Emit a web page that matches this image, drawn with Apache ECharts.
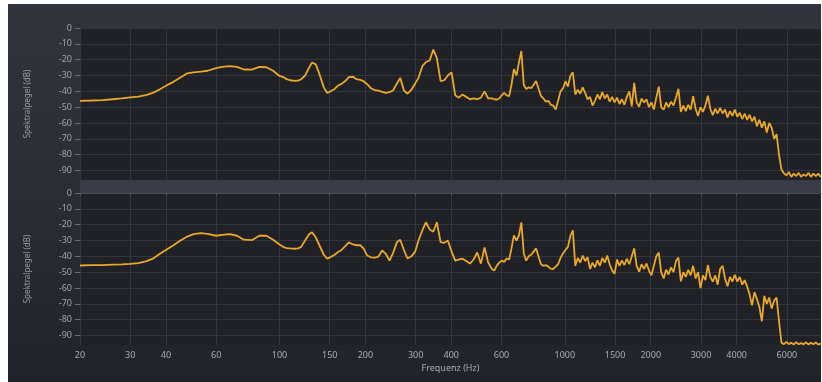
<!DOCTYPE html>
<html>
<head>
<meta charset="utf-8">
<script src="https://cdn.jsdelivr.net/npm/echarts@6/dist/echarts.min.js"></script>
<style>
  html, body { margin: 0; padding: 0; background: #ffffff; }
  #frame {
    position: absolute; left: 8px; top: 4px; width: 813px; height: 378px;
    background: linear-gradient(180deg, #31343c 0%, #2b2e35 45%, #202328 100%);
  }
  #chart { position: absolute; left: 0; top: 0; width: 822px; height: 382px; }
</style>
</head>
<body>
<div id="frame"></div>
<div id="chart"></div>
<script>
// Frequency bins (Hz) shared by both spectra
const freqHz = [
  20, 22, 24, 26, 28, 30, 32, 34, 36, 38, 40, 42.5, 45, 47.5, 50, 53, 56, 60, 63, 67, 71, 75, 80, 85, 90, 95,
  100, 103, 106, 109, 113, 116, 119, 123, 127, 130, 134, 138, 143, 147, 151, 156, 160, 165, 170, 175,
  181, 186, 192, 197, 203, 209, 216, 222, 229, 236, 243, 250, 258, 265, 273, 281, 290, 299, 307, 317,
  326, 336, 346, 356, 367, 378, 389, 401, 413, 425, 438, 451, 465, 479, 493, 508, 523, 539,
  555, 566, 577, 589, 601, 613, 625, 638, 650, 663, 677, 690, 704, 718, 732, 747, 762, 777, 793, 808,
  825, 841, 858, 875, 893, 910, 929, 947, 966, 986, 1005, 1025, 1046, 1067, 1088, 1110, 1132, 1155, 1178, 1201,
  1226, 1250, 1275, 1301, 1327, 1353, 1380, 1408, 1436, 1465, 1494, 1524, 1554, 1585, 1617, 1649, 1682, 1716, 1750, 1785,
  1821, 1857, 1895, 1933, 1971, 2011, 2051, 2092, 2134, 2176, 2220, 2264, 2310, 2356, 2403, 2451, 2500, 2550, 2601, 2653,
  2706, 2760, 2815, 2872, 2929, 2988, 3047, 3108, 3171, 3234, 3299, 3365, 3432, 3501, 3571, 3642, 3715, 3789, 3865, 3942,
  4021, 4101, 4183, 4267, 4352, 4439, 4528, 4619, 4711, 4805, 4902, 5000, 5100, 5202, 5306, 5412, 5520, 5630, 5743, 5858,
  5975, 6094, 6216, 6341, 6467, 6597, 6729, 6863, 7001, 7141, 7283, 7429, 7578, 7729, 7884
];

// Spectral level of the upper channel (dB)
const levelUpper = [
  -46, -45.8, -45.5, -45, -44.5, -43.8, -43.3, -42.4, -41, -38.8, -36.5, -34, -31.2, -28.6, -28, -27.6, -27, -25.3, -24.5, -24.1, -24.6, -26.2, -26.3, -24.6, -24.8, -27,
  -30.3, -31, -32.3, -33, -33.4, -33.3, -32.5, -30, -25, -21.8, -23, -29, -37.5, -41, -40, -38.5, -36.5, -35.3, -33.5, -31,
  -30.8, -32.3, -32.8, -33.6, -35.5, -38, -39.3, -39.5, -40.3, -41, -40.5, -39.5, -35, -31.5, -39.5, -41.5, -39, -35, -31.5, -24,
  -21.5, -20.5, -13.6, -19, -33.6, -33, -30, -28, -42.5, -44, -42, -43.5, -45, -44.5, -45, -44, -40, -44.5,
  -44.5, -45, -45.2, -44.5, -42.5, -41, -42.5, -43, -36, -26,
  -30, -22, -14.5, -36, -38.5, -37.5, -38, -36, -33.5, -38,
  -43, -44.5, -46.5, -46, -48.5, -49, -51.5, -46, -40, -38,
  -33.6, -37, -30, -28, -42, -39, -41.5, -37.5, -41, -45,
  -43.5, -49, -46, -42, -45, -40.5, -44.5, -42, -46.5, -43.5,
  -47, -44, -48, -45, -48.5, -43.5, -40, -49.5, -34.6, -47,
  -49.7, -44.5, -47, -45, -50, -47, -51.5, -44, -37, -50,
  -51.6, -47, -50, -46.5, -49, -44, -38.4, -53, -49, -52.5,
  -48.5, -51.5, -43, -51, -55.5, -50, -53, -49, -42.7, -51,
  -55, -51, -54, -50.5, -54, -51.5, -56.5, -52.5, -55.5, -51.5,
  -56, -53.5, -57.5, -54, -58, -54.8, -59, -56, -62, -57.9,
  -63, -59, -66, -60, -63, -70, -67, -80, -89.5, -91.8,
  -93, -91, -94, -92, -93.5, -91.5, -94, -92.5, -93.5, -91.5,
  -94, -92, -93.5, -92, -94
];

// Spectral level of the lower channel (dB)
const levelLower = [
  -45.8, -45.6, -45.5, -45.3, -45.1, -44.8, -44.3, -43.2, -41.5, -38.5, -36, -33, -30, -27.5, -26, -25.3, -25.8, -27, -26.5, -26, -27, -29.5, -29.8, -27, -27, -29.5,
  -32.5, -34, -34.8, -35, -35.2, -35, -34.2, -30, -26, -24.8, -28, -33, -39, -41.4, -40.5, -39, -37.4, -36, -33.5, -31.2,
  -32.5, -33, -33, -35, -39.5, -40.6, -40.8, -40.2, -36.3, -38.5, -42.7, -38, -31, -29.5, -36, -41.4, -40, -37, -30, -23.5,
  -18.5, -23, -24.5, -18.5, -31, -31.5, -30, -37, -42.7, -42, -41.5, -43, -44.6, -42, -37.6, -44.6, -34.4, -44,
  -48, -49, -46, -44, -42.7, -43.5, -41.4, -42, -35, -26.8,
  -30, -27, -18.5, -38, -42.7, -40, -39, -37, -35, -40,
  -45, -46, -45.5, -46.5, -47.8, -48, -46.5, -45, -41, -38,
  -36, -34, -27, -23.6, -46, -41, -44, -39.5, -43, -40.6,
  -48, -44, -47, -42.5, -46, -41, -44, -39.5, -45, -49,
  -51, -42, -46, -42.5, -45.5, -41.5, -45, -40, -35, -46,
  -49.7, -45, -48, -44.5, -49, -52, -46, -40, -37.6, -50,
  -54, -48.5, -51.5, -47, -50, -43, -40.8, -55.8, -50, -53,
  -48.5, -52, -46, -54, -50, -60, -52, -55, -45.5, -53,
  -56, -52, -57.9, -48, -46, -54, -58.9, -53, -56, -51.6,
  -56, -53, -57.9, -55, -59, -64, -71, -62.6, -67, -72,
  -81, -65, -70, -66, -73, -68, -66, -81, -94.5, -95.5,
  -94, -95.5, -94.5, -95.8, -94.2, -95.5, -94.8, -95.6, -94.3, -95.7,
  -94.6, -95.5, -94.4, -95.8, -95
];

// Axis ticks
const freqTicks = [20, 30, 40, 60, 100, 150, 200, 300, 400, 600, 1000, 1500, 2000, 3000, 4000, 6000];
const levelTicks = [0, -10, -20, -30, -40, -50, -60, -70, -80, -90];

const FONT = 'Noto Sans';
const gridColor = '#33363d';
const lineColor = '#e9a82b';

function freqAxis(index, withLabels) {
  return {
    type: 'log', logBase: 10, gridIndex: index, min: 20, max: 7900,
    axisLine: { show: withLabels, lineStyle: { color: '#4a4d55', width: 1 } },
    axisTick: { show: withLabels, customValues: freqTicks, length: 3, lineStyle: { color: '#4a4d55' } },
    axisLabel: {
      show: withLabels, customValues: freqTicks, formatter: v => String(v),
      color: '#a9adb4', fontSize: 9, fontFamily: FONT, margin: 6
    },
    splitLine: { show: true, lineStyle: { color: gridColor, width: 1 } },
    minorTick: { show: false }, minorSplitLine: { show: false },
    name: withLabels ? 'Frequenz (Hz)' : '', nameLocation: 'middle', nameGap: 19,
    nameTextStyle: { color: '#a9adb4', fontSize: 9, fontFamily: FONT }
  };
}

function levelAxis(index) {
  return {
    type: 'value', gridIndex: index, min: -96, max: 0,
    axisLine: { show: false },
    axisTick: { show: true, customValues: levelTicks, length: 5, lineStyle: { color: '#6a6e76' } },
    axisLabel: { customValues: levelTicks, color: '#a0a4ab', fontSize: 9, fontFamily: FONT, margin: 8 },
    splitLine: { show: true, lineStyle: { color: gridColor, width: 1 } },
    name: 'Spektralpegel (dB)', nameLocation: 'middle', nameGap: 48, nameRotate: 90,
    nameTextStyle: { color: '#9a9ea6', fontSize: 8, fontFamily: FONT }
  };
}

function spectrum(index, levels) {
  return {
    type: 'line', xAxisIndex: index, yAxisIndex: index,
    data: freqHz.map((f, i) => [f, levels[i]]),
    symbol: 'none', showSymbol: false, smooth: false,
    lineStyle: { color: lineColor, width: 1.8 },
    emphasis: { disabled: true }, animation: false
  };
}

const chart = echarts.init(document.getElementById('chart'));
chart.setOption({
  backgroundColor: 'transparent',
  animation: false,
  textStyle: { fontFamily: FONT },
  grid: [
    { left: 80, right: 1, top: 28, height: 152, show: true, backgroundColor: '#1f2126', borderWidth: 0 },
    { left: 80, right: 1, top: 193, height: 152, show: true, backgroundColor: '#1f2126', borderWidth: 0 }
  ],
  graphic: [
    { type: 'rect', z: -1, shape: { x: 80, y: 180, width: 741, height: 13 }, style: { fill: '#393c44' } }
  ],
  xAxis: [freqAxis(0, false), freqAxis(1, true)],
  yAxis: [levelAxis(0), levelAxis(1)],
  series: [spectrum(0, levelUpper), spectrum(1, levelLower)]
});
</script>
</body>
</html>
